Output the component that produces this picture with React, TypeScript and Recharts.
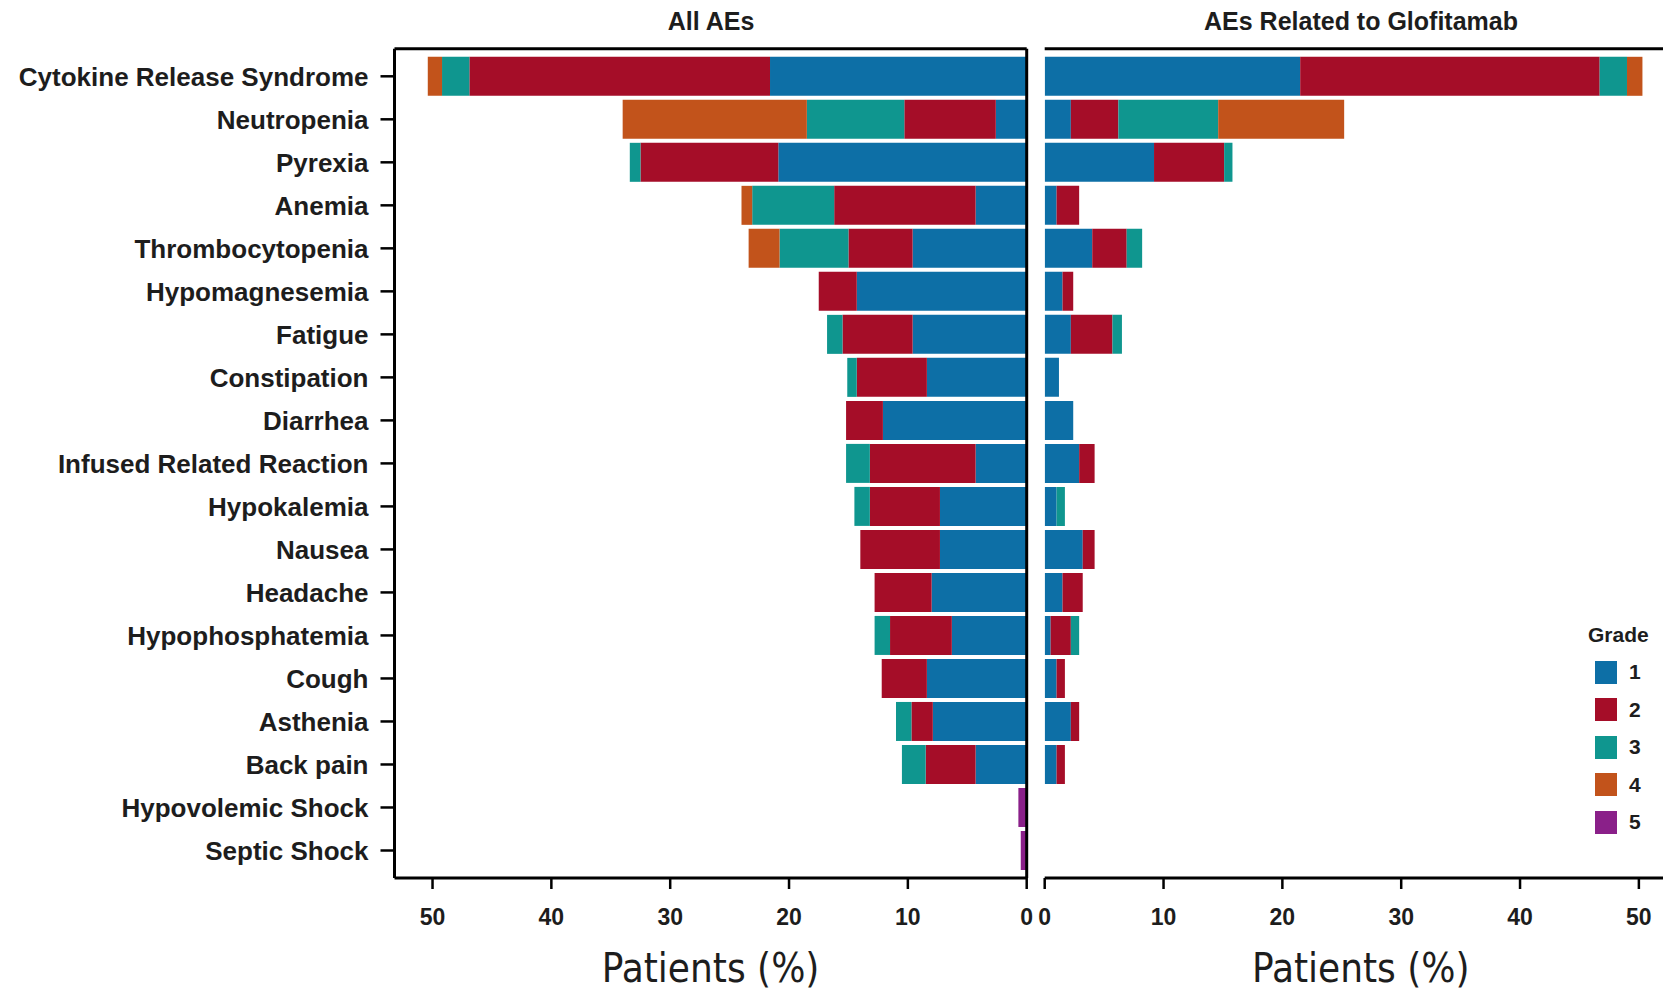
import React from "react";
import { BarChart, Bar, XAxis, YAxis, Legend } from "recharts";

const categories = [
  "Cytokine Release Syndrome",
  "Neutropenia",
  "Pyrexia",
  "Anemia",
  "Thrombocytopenia",
  "Hypomagnesemia",
  "Fatigue",
  "Constipation",
  "Diarrhea",
  "Infused Related Reaction",
  "Hypokalemia",
  "Nausea",
  "Headache",
  "Hypophosphatemia",
  "Cough",
  "Asthenia",
  "Back pain",
  "Hypovolemic Shock",
  "Septic Shock",
];

// All AEs, % of patients by grade
const allG1 = [21.6, 2.6, 20.9, 4.3, 9.6, 14.3, 9.6, 8.4, 12.1, 4.3, 7.3, 7.3, 8.0, 6.3, 8.4, 7.9, 4.3, 0, 0];
const allG2 = [25.3, 7.7, 11.6, 11.9, 5.4, 3.2, 5.9, 5.9, 3.1, 8.9, 5.9, 6.7, 4.8, 5.2, 3.8, 1.8, 4.2, 0, 0];
const allG3 = [2.3, 8.2, 0.9, 6.9, 5.8, 0, 1.3, 0.8, 0, 2.0, 1.3, 0, 0, 1.3, 0, 1.3, 2.0, 0, 0];
const allG4 = [1.2, 15.5, 0, 0.9, 2.6, 0, 0, 0, 0, 0, 0, 0, 0, 0, 0, 0, 0, 0, 0];
const allG5 = [0, 0, 0, 0, 0, 0, 0, 0, 0, 0, 0, 0, 0, 0, 0, 0, 0, 0.7, 0.5];

// AEs related to glofitamab
const relG1 = [21.5, 2.2, 9.2, 1.0, 4.0, 1.5, 2.2, 1.2, 2.4, 2.9, 1.0, 3.2, 1.5, 0.5, 1.0, 2.2, 1.0, 0, 0];
const relG2 = [25.2, 4.0, 5.9, 1.9, 2.9, 0.9, 3.5, 0, 0, 1.3, 0, 1.0, 1.7, 1.7, 0.7, 0.7, 0.7, 0, 0];
const relG3 = [2.3, 8.4, 0.7, 0, 1.3, 0, 0.8, 0, 0, 0, 0.7, 0, 0, 0.7, 0, 0, 0, 0, 0];
const relG4 = [1.3, 10.6, 0, 0, 0, 0, 0, 0, 0, 0, 0, 0, 0, 0, 0, 0, 0, 0, 0];
const relG5 = [0, 0, 0, 0, 0, 0, 0, 0, 0, 0, 0, 0, 0, 0, 0, 0, 0, 0, 0];

const xTicks = [0, 10, 20, 30, 40, 50];
const grades = ["1", "2", "3", "4", "5"];
const gradeColors = ["#0D6FA6", "#A50D28", "#0F968F", "#C2531B", "#8A2089"];

const allData = categories.map((name, i) => ({
  name,
  g1: allG1[i],
  g2: allG2[i],
  g3: allG3[i],
  g4: allG4[i],
  g5: allG5[i],
}));
const relData = categories.map((name, i) => ({
  name,
  g1: relG1[i],
  g2: relG2[i],
  g3: relG3[i],
  g4: relG4[i],
  g5: relG5[i],
}));

const DOMAIN: [number, number] = [0, 53.2];
const line = { stroke: "#000", strokeWidth: 3 };
const TXT = "#1d1d1d";
const FONT = "'Liberation Sans', Arial, sans-serif";
const NARROW = "'DejaVu Sans Condensed', 'Liberation Sans Narrow', sans-serif";

function GradeLegend(props: any) {
  const payload = props.payload || [];
  return (
    <div style={{ fontFamily: FONT, color: TXT, fontWeight: 700 }}>
      <div style={{ fontSize: 21, lineHeight: "24px", marginBottom: 6.5 }}>Grade</div>
      {payload.map((p: any) => (
        <div key={p.value} style={{ display: "flex", alignItems: "center", height: 37.5, marginLeft: 7 }}>
          <div style={{ width: 22, height: 23, background: p.color, marginRight: 12 }} />
          <span style={{ fontSize: 21 }}>{p.value}</span>
        </div>
      ))}
    </div>
  );
}

function bars() {
  return ["g1", "g2", "g3", "g4", "g5"].map((k, i) => (
    <Bar
      key={k}
      dataKey={k}
      name={grades[i]}
      stackId="s"
      fill={gradeColors[i]}
      isAnimationActive={false}
    />
  ));
}

const axisLabelStyle = { fontFamily: NARROW, fontSize: 40, fill: TXT };
const tickStyle = { fontSize: 23, fontWeight: 700, fill: TXT, fontFamily: FONT };

export default function App() {
  return (
    <div
      style={{
        position: "absolute",
        left: 0,
        top: 0,
        width: 1663,
        height: 992,
        overflow: "hidden",
        background: "#fff",
        fontFamily: FONT,
      }}
    >
      <div style={{ position: "absolute", left: 0, top: 0 }}>
        <BarChart
          width={1040}
          height={992}
          data={allData}
          layout="vertical"
          barCategoryGap={2}
          margin={{ top: 47.8, right: 12.3, bottom: 0, left: 0 }}
        >
          <XAxis
            type="number"
            domain={DOMAIN}
            reversed
            ticks={xTicks}
            interval={0}
            allowDataOverflow
            height={114}
            tickSize={11}
            tickMargin={20}
            axisLine={line}
            tickLine={{ stroke: "#000", strokeWidth: 2.5 }}
            tick={tickStyle}
            label={{ value: "Patients (%)", position: "insideBottom", offset: 10, style: axisLabelStyle }}
          />
          <XAxis
            xAxisId="top"
            orientation="top"
            type="number"
            domain={DOMAIN}
            height={1}
            tick={false}
            tickLine={false}
            axisLine={line}
          />
          <YAxis
            type="category"
            dataKey="name"
            width={394.5}
            padding={{ top: 6, bottom: 6 }}
            tickSize={14}
            tickMargin={12}
            axisLine={line}
            tickLine={{ stroke: "#000", strokeWidth: 2.5 }}
            tick={{ fontSize: 26, fontWeight: 700, fill: TXT, fontFamily: FONT }}
            interval={0}
          />
          <YAxis
            yAxisId="r"
            orientation="right"
            type="category"
            dataKey="name"
            width={1}
            tick={false}
            tickLine={false}
            axisLine={line}
          />
          {bars()}
        </BarChart>
      </div>

      <div style={{ position: "absolute", left: 1030, top: 0 }}>
        <BarChart
          width={710}
          height={992}
          data={relData}
          layout="vertical"
          barCategoryGap={2}
          margin={{ top: 47.8, right: 63.1, bottom: 0, left: 14.7 }}
        >
          <XAxis
            type="number"
            domain={DOMAIN}
            ticks={xTicks}
            interval={0}
            allowDataOverflow
            height={114}
            tickSize={11}
            tickMargin={20}
            axisLine={line}
            tickLine={{ stroke: "#000", strokeWidth: 2.5 }}
            tick={tickStyle}
            label={{ value: "Patients (%)", position: "insideBottom", offset: 10, style: axisLabelStyle }}
          />
          <XAxis
            xAxisId="top"
            orientation="top"
            type="number"
            domain={DOMAIN}
            height={1}
            tick={false}
            tickLine={false}
            axisLine={line}
          />
          <YAxis
            type="category"
            dataKey="name"
            width={0}
            padding={{ top: 6, bottom: 6 }}
            tick={false}
            tickLine={false}
            axisLine={line}
          />
          <Legend
            layout="vertical"
            align="center"
            verticalAlign="middle"
            content={<GradeLegend />}
            wrapperStyle={{ left: 558, top: 623, width: 100 }}
          />
          {bars()}
        </BarChart>
      </div>

      <div
        style={{
          position: "absolute",
          left: 560,
          width: 302,
          top: 8.8,
          textAlign: "center",
          fontSize: 25,
          lineHeight: "25px",
          fontWeight: 700,
          color: TXT,
        }}
      >
        All AEs
      </div>
      <div
        style={{
          position: "absolute",
          left: 1161,
          width: 400,
          top: 8.8,
          textAlign: "center",
          fontSize: 25,
          lineHeight: "25px",
          fontWeight: 700,
          color: TXT,
        }}
      >
        AEs Related to Glofitamab
      </div>
    </div>
  );
}
